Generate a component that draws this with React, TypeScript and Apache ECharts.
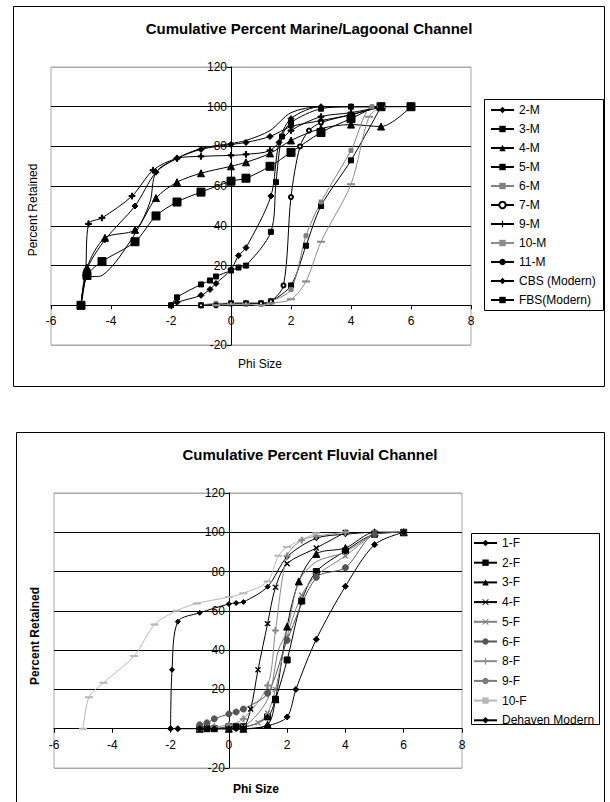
import React, { useEffect, useRef } from "react";
import * as echarts from "echarts";

const FONT = "'Liberation Sans', Arial, sans-serif";

// ---- axis ticks ----
const xMin = -6, xMax = 8, xStep = 2;
const yMin = -20, yMax = 120, yStep = 20;

// ---- Marine / Lagoonal channel (phi size, cumulative percent) ----
const marineNames = ["2-M", "3-M", "4-M", "5-M", "6-M", "7-M", "9-M", "10-M", "11-M", "CBS (Modern)", "FBS(Modern)"];
const m2 = [[-5, 0], [-4.8, 18], [-4.2, 33], [-3.2, 50], [-2.5, 67], [-1.8, 74], [-1, 78.5], [0, 81], [0.5, 82], [1.3, 85], [2, 90], [3, 93], [4, 96], [5, 100]];
const m3 = [[-1, 0], [0, 1], [0.5, 1], [1, 1], [1.33, 2], [2, 10], [2.5, 30], [3, 50], [4, 73], [5, 100]];
const m4 = [[-5, 0], [-4.8, 19], [-4.2, 34], [-3.2, 38], [-2.5, 54], [-1.8, 62], [-1, 66.5], [0, 70], [0.5, 72], [1.3, 76.5], [2, 83], [3, 89], [4, 91], [5, 90], [6, 100]];
const m5 = [[-5, 0], [-4.8, 15], [-4.3, 22], [-3.2, 32], [-2.5, 45], [-1.8, 52], [-1, 57], [0, 62.5], [0.5, 64], [1.3, 70], [2, 77], [3, 87], [4, 94], [5, 100], [6, 100]];
const m6 = [[-1, 0], [-0.5, 1], [0, 1], [0.5, 1], [1, 1], [1.33, 2], [2, 8], [2.5, 35], [3, 52], [4, 78], [4.7, 100], [5, 100]];
const m7 = [[-1, 0], [-0.5, 0], [0, 1], [0.5, 1], [1, 1], [1.33, 2], [1.75, 10], [2, 54.5], [2.3, 80], [2.6, 88], [3, 92], [4, 96], [5, 100]];
const m9 = [[-5, 0], [-4.85, 15], [-4.75, 41], [-4.3, 44], [-3.3, 55], [-2.6, 68], [-1.8, 74], [-1, 75], [0, 75.5], [0.5, 76], [1.3, 78], [2, 88], [3, 95], [4, 97], [5, 100]];
const m10 = [[-0.5, 0], [0, 0.5], [0.5, 0.5], [1, 0], [1.33, 1], [2, 3], [2.5, 12], [3, 32], [4, 61], [4.6, 95], [5, 100]];
const m11 = [[-5, 0], [-4.8, 14], [-4.3, 15], [-3.2, 36], [-2.7, 52], [-2.5, 67], [-1.8, 74], [-1, 79], [0, 81.5], [0.5, 83], [1.3, 88], [2, 97], [3, 100], [4, 100], [5, 100]];
const mCBS = [[-2, 0], [-1.8, 1.5], [-1, 5], [-0.7, 8], [-0.5, 11], [0, 18], [0.25, 25], [0.5, 29], [1.33, 55], [1.6, 82], [2, 94], [3, 100], [4, 100], [5, 100]];
const mFBS = [[-2, 0], [-1.8, 4], [-1, 10.5], [-0.7, 12.5], [-0.5, 14.5], [0, 17.5], [0.25, 19], [0.5, 20], [1.33, 37], [1.5, 62], [1.7, 85], [2, 92], [3, 99], [4, 100], [5, 100]];
const marineData = [m2, m3, m4, m5, m6, m7, m9, m10, m11, mCBS, mFBS];

// ---- Fluvial channel ----
const fluvialNames = ["1-F", "2-F", "3-F", "4-F", "5-F", "6-F", "8-F", "9-F", "10-F", "Dehaven Modern"];
const f1 = [[-2, 0], [-1.95, 30], [-1.75, 54.5], [-1, 59], [0, 63.5], [0.25, 64], [0.5, 64.5], [1.33, 72.3], [2, 87.5], [3, 97], [4, 99], [5, 100], [6, 100]];
const f2 = [[-1, 0], [-0.75, 0], [-0.5, 0], [0, 1], [0.25, 1], [0.5, 1], [1.33, 6], [1.6, 15], [2, 35], [2.5, 65], [3, 80], [4, 90.5], [5, 99], [6, 100]];
const f3 = [[-1, 0], [0, 0], [0.5, 0], [1.33, 2], [1.6, 15], [2, 52], [2.4, 75], [3, 89], [4, 92], [5, 100], [6, 100]];
const f4 = [[-1, 0], [0, 0], [0.5, 1], [0.75, 10], [1, 30], [1.33, 53.5], [1.6, 72], [2, 84], [3, 92], [4, 100]];
const f5 = [[-1, 0], [0, 0.5], [0.5, 1], [1, 3], [1.33, 8], [1.6, 20], [2, 47], [2.5, 68], [3, 78], [4, 88], [5, 100]];
const f6 = [[-1, 2], [-0.75, 3], [-0.5, 5], [0, 7.5], [0.25, 8.5], [0.5, 10], [1.33, 18], [2, 45], [3, 77], [4, 82], [5, 99], [6, 100]];
const f8 = [[-0.5, 1], [0, 2], [0.5, 5], [1.33, 22], [1.6, 50], [2, 88], [2.5, 96], [3, 98], [4, 100]];
const f9 = [[0, 0], [0.5, 1], [1.33, 15], [1.7, 40], [2, 50], [2.4, 75], [3, 85], [4, 90], [5, 100]];
const f10 = [[-5, 0], [-4.8, 16], [-4.3, 23.4], [-3.25, 37], [-2.55, 53], [-1.8, 60], [-1.1, 63.8], [0, 67], [0.5, 69], [1.33, 75], [1.7, 88], [2, 92.5], [3, 99.5]];
const fDeh = [[-2, 0], [-1.75, 0], [-1, 0], [-0.75, 0], [-0.5, 0], [0, 0], [0.25, 0], [0.5, 0], [1.33, 1.5], [2, 6], [2.3, 20], [3, 45.5], [4, 72.5], [5, 93.7], [6, 100]];
const fluvialData = [f1, f2, f3, f4, f5, f6, f8, f9, f10, fDeh];

// ---- marker styles ----
const PLUS = "path://M4,0H6V4H10V6H6V10H4V6H0V4H4Z";
const CROSS = "path://M1,0L5,4L9,0L10,1L6,5L10,9L9,10L5,6L1,10L0,9L4,5L0,1Z";

type Sty = { color: string; symbol: string; size: any };
const marineStyles: Sty[] = [
  { color: "#000", symbol: "diamond", size: 6 },
  { color: "#000", symbol: "rect", size: 5 },
  { color: "#000", symbol: "triangle", size: 7 },
  { color: "#000", symbol: "rect", size: 8 },
  { color: "#808080", symbol: "rect", size: 4 },
  { color: "#000", symbol: "emptyCircle", size: 4 },
  { color: "#000", symbol: PLUS, size: 6 },
  { color: "#8c8c8c", symbol: "rect", size: [6, 1.5] },
  { color: "#000", symbol: "none", size: 0 },
  { color: "#000", symbol: "diamond", size: 6 },
  { color: "#000", symbol: "rect", size: 5 },
];
const fluvialStyles: Sty[] = [
  { color: "#000", symbol: "diamond", size: 5 },
  { color: "#000", symbol: "rect", size: 6 },
  { color: "#000", symbol: "triangle", size: 7 },
  { color: "#000", symbol: CROSS, size: 5 },
  { color: "#808080", symbol: CROSS, size: 5 },
  { color: "#555", symbol: "circle", size: 6 },
  { color: "#8c8c8c", symbol: PLUS, size: 6 },
  { color: "#7a7a7a", symbol: "none", size: 0 },
  { color: "#b8b8b8", symbol: "rect", size: [6, 1.5] },
  { color: "#000", symbol: "diamond", size: 6 },
];

// grid geometry
const grids = [
  { left: 51, top: 67, width: 420, height: 278 },
  { left: 54, top: 493, width: 408, height: 275 },
];

function mkSeries(name: string, data: number[][], sty: Sty, idx: number) {
  return {
    type: "line",
    name,
    data,
    xAxisIndex: idx,
    yAxisIndex: idx,
    smooth: 0.3,
    symbol: sty.symbol,
    symbolSize: sty.size,
    showSymbol: sty.symbol !== "none",
    lineStyle: { color: sty.color, width: 1 },
    itemStyle: { color: sty.color, borderColor: sty.color },
    emphasis: { disabled: true },
  };
}

function xAxisOf(gridIndex: number) {
  const g = grids[gridIndex];
  // place the axis where y = 0 (axes cross at zero)
  const off = -((0 - yMin) / (yMax - yMin)) * g.height;
  return {
    type: "value",
    gridIndex,
    min: xMin,
    max: xMax,
    interval: xStep,
    position: "bottom",
    offset: off,
    axisLine: { onZero: false, lineStyle: { color: "#000", width: 1 } },
    axisTick: { show: true, length: 4, lineStyle: { color: "#000" } },
    axisLabel: { color: "#000", fontSize: 12, fontFamily: FONT, margin: 10 },
    splitLine: { show: false },
  };
}
function yAxisOf(gridIndex: number) {
  const g = grids[gridIndex];
  const off = -((0 - xMin) / (xMax - xMin)) * g.width;
  return {
    type: "value",
    gridIndex,
    min: yMin,
    max: yMax,
    interval: yStep,
    position: "left",
    offset: off,
    axisLine: { onZero: false, lineStyle: { color: "#000", width: 1 } },
    axisTick: { show: true, length: 4, lineStyle: { color: "#000" } },
    axisLabel: {
      color: "#000",
      fontSize: 12,
      fontFamily: FONT,
      margin: 4,
      formatter: (v: number) => (v === 0 ? "" : String(v)),
    },
    splitLine: {
      show: true,
      lineStyle: { color: ["#a8a8a8", "#000", "#000", "#000", "#000", "#000", "#000", "#a8a8a8"], width: 1 },
    },
  };
}

function txt(text: string, x: number, y: number, size: number, bold: boolean, rot = 0) {
  return {
    type: "text",
    x,
    y,
    rotation: rot,
    style: {
      text,
      x: 0,
      y: 0,
      align: "center",
      verticalAlign: "middle",
      fontSize: size,
      fontWeight: bold ? "bold" : "normal",
      fontFamily: FONT,
      fill: "#000",
    },
  };
}
function box(x: number, y: number, w: number, h: number) {
  return {
    type: "rect",
    shape: { x: x + 0.5, y: y + 0.5, width: w, height: h },
    style: { fill: "none", stroke: "#000", lineWidth: 1 },
    silent: true,
  };
}

export default function App() {
  const ref = useRef<HTMLDivElement>(null);
  useEffect(() => {
    if (!ref.current) return;
    const chart = echarts.init(ref.current, undefined, { renderer: "svg" });
    const legendText = { fontSize: 12, fontFamily: FONT, color: "#000", lineHeight: 12 };
    chart.setOption({
      animation: false,
      backgroundColor: "#fff",
      grid: grids.map((g) => ({ ...g, show: true, borderColor: "#a8a8a8", borderWidth: 1, backgroundColor: "transparent" })),
      xAxis: [xAxisOf(0), xAxisOf(1)],
      yAxis: [yAxisOf(0), yAxisOf(1)],
      legend: [
        {
          data: marineNames,
          orient: "vertical",
          left: 490,
          top: 104,
          padding: 0,
          itemGap: 7,
          itemWidth: 23,
          itemHeight: 8,
          selectedMode: false,
          textStyle: legendText,
        },
        {
          data: fluvialNames,
          orient: "vertical",
          left: 473,
          top: 537,
          padding: 0,
          itemGap: 7.7,
          itemWidth: 23,
          itemHeight: 8,
          selectedMode: false,
          textStyle: legendText,
        },
      ],
      graphic: [
        box(13, 6, 591, 380),
        box(16, 432, 588, 380),
        box(484, 99, 119, 211),
        box(471, 533, 128, 191),
        txt("Cumulative Percent Marine/Lagoonal Channel", 309, 28, 15, true),
        txt("Percent Retained", 33, 210, 12, false, Math.PI / 2),
        txt("Phi Size", 260, 364, 12, false),
        txt("Cumulative Percent Fluvial Channel", 310, 454, 15, true),
        txt("Percent Retained", 35, 636, 12, true, Math.PI / 2),
        txt("Phi Size", 256, 789, 12, true),
      ],
      series: [
        ...marineNames.map((n, i) => mkSeries(n, marineData[i], marineStyles[i], 0)),
        ...fluvialNames.map((n, i) => mkSeries(n, fluvialData[i], fluvialStyles[i], 1)),
      ],
    });
    return () => chart.dispose();
  }, []);
  return (
    <div
      ref={ref}
      style={{ position: "absolute", left: 0, top: 0, width: 610, height: 802, background: "#fff" }}
    />
  );
}
